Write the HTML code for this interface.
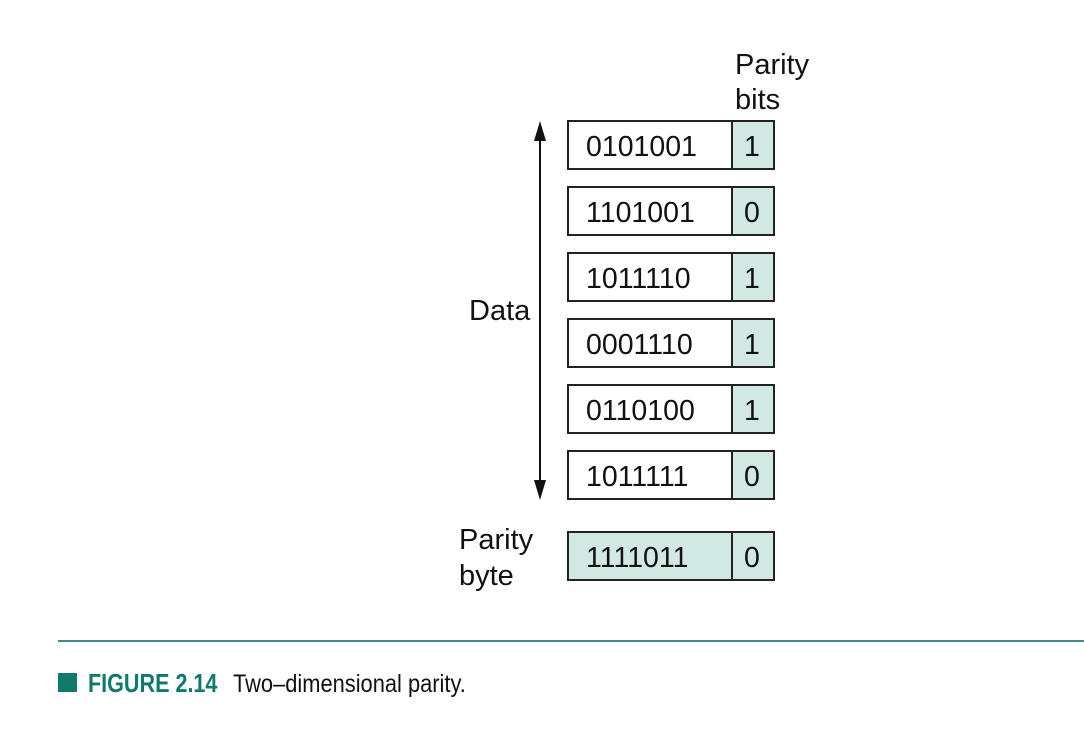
<!DOCTYPE html>
<html><head><meta charset="utf-8"><style>
html,body{margin:0;padding:0;background:#fff;width:1084px;height:744px;overflow:hidden}
</style></head><body>
<svg width="1084" height="744" xmlns="http://www.w3.org/2000/svg" font-family="Liberation Sans, Arial, sans-serif">
<g font-size="29" fill="#111">
<text x="735" y="74">Parity</text>
<text x="735" y="109">bits</text>
<text x="469" y="320">Data</text>
<text x="459" y="549">Parity</text>
<text x="459" y="585">byte</text>
</g>
<line x1="540" y1="134" x2="540" y2="488" stroke="#111" stroke-width="2"/>
<polygon points="540,121 534,141 546,141" fill="#111"/>
<polygon points="540,500 534,480 546,480" fill="#111"/>
<g stroke="#222" stroke-width="2">
<rect x="568" y="121" width="164" height="48" fill="#fff"/><rect x="732" y="121" width="42" height="48" fill="#d2e8e3"/>
<rect x="568" y="187" width="164" height="48" fill="#fff"/><rect x="732" y="187" width="42" height="48" fill="#d2e8e3"/>
<rect x="568" y="253" width="164" height="48" fill="#fff"/><rect x="732" y="253" width="42" height="48" fill="#d2e8e3"/>
<rect x="568" y="319" width="164" height="48" fill="#fff"/><rect x="732" y="319" width="42" height="48" fill="#d2e8e3"/>
<rect x="568" y="385" width="164" height="48" fill="#fff"/><rect x="732" y="385" width="42" height="48" fill="#d2e8e3"/>
<rect x="568" y="451" width="164" height="48" fill="#fff"/><rect x="732" y="451" width="42" height="48" fill="#d2e8e3"/>
<rect x="568" y="532" width="164" height="48" fill="#d2e8e3"/><rect x="732" y="532" width="42" height="48" fill="#d2e8e3"/>
</g>
<g font-size="28.5" fill="#111">
<text x="586" y="156">0101001</text><text x="744" y="156">1</text>
<text x="586" y="222">1101001</text><text x="744" y="222">0</text>
<text x="586" y="288">1011110</text><text x="744" y="288">1</text>
<text x="586" y="354">0001110</text><text x="744" y="354">1</text>
<text x="586" y="420">0110100</text><text x="744" y="420">1</text>
<text x="586" y="486">1011111</text><text x="744" y="486">0</text>
<text x="586" y="567">1111011</text><text x="744" y="567">0</text>
</g>
<line x1="58" y1="641" x2="1084" y2="641" stroke="#3a8f86" stroke-width="2"/>
<rect x="58" y="673" width="19" height="19" fill="#0f7a6c"/>
<text x="88" y="692" font-size="26" font-weight="bold" fill="#0f7a6c" transform="translate(88 0) scale(0.83 1) translate(-88 0)">FIGURE 2.14</text>
<text x="233" y="692" font-size="25" fill="#111" transform="translate(233 0) scale(0.875 1) translate(-233 0)">Two–dimensional parity.</text>
</svg>
</body></html>
